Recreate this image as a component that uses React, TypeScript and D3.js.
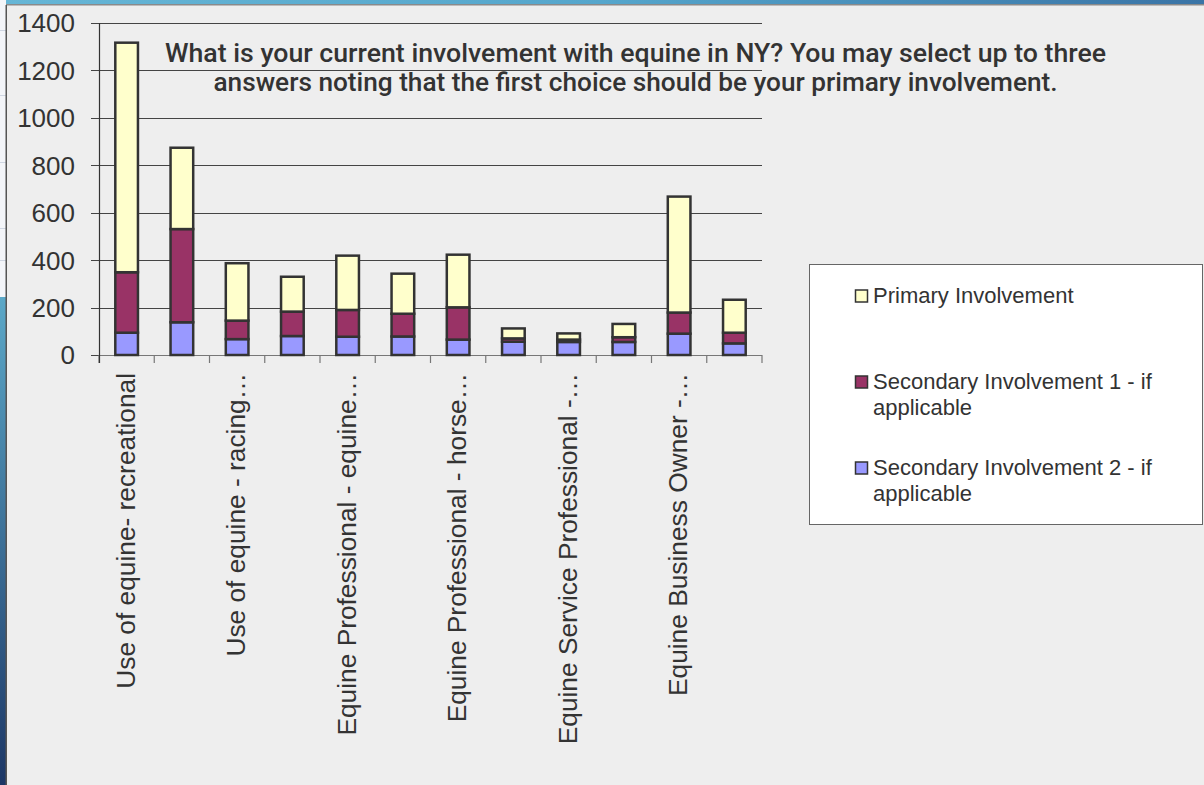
import React from "react";
import * as d3 from "d3";

const categories = [
  "Use of equine- recreational",
  "",
  "Use of equine - racing…",
  "",
  "Equine Professional - equine…",
  "",
  "Equine Professional - horse…",
  "",
  "Equine Service Professional -…",
  "",
  "Equine Business Owner -…",
  "",
];
const secondary2 = [94, 138, 67, 80, 77, 78, 65, 56, 55, 55, 90, 49];
const secondary1 = [255, 393, 78, 103, 113, 96, 136, 14, 10, 20, 89, 45];
const primary = [968, 343, 242, 147, 229, 169, 222, 42, 26, 56, 489, 139];
const yTicks = [0, 200, 400, 600, 800, 1000, 1200, 1400];
const seriesNames = [
  ["Primary Involvement"],
  ["Secondary Involvement 1 - if", "applicable"],
  ["Secondary Involvement 2 - if", "applicable"],
];
const seriesColors = ["#FFFFCC", "#993366", "#9999FF"];
const titleLines = [
  "What is your current involvement with equine in NY? You may select up to three",
  "answers noting that the first choice should be your primary involvement.",
];

export default function App() {
  const W = 1204, H = 785;
  const x0 = 99, x1 = 762, yTop = 23, yBot = 355;
  const x = d3.scaleBand<number>().domain(d3.range(categories.length)).range([x0, x1]).paddingInner(0.59).paddingOuter(0.295);
  const y = d3.scaleLinear().domain([0, 1400]).range([yBot, yTop]);
  const rows = categories.map((c, i) => ({ i, s2: secondary2[i], s1: secondary1[i], p: primary[i] }));
  const stack = d3.stack<any>().keys(["s2", "s1", "p"])(rows);
  const colorByKey: Record<string, string> = { s2: seriesColors[2], s1: seriesColors[1], p: seriesColors[0] };
  const band = (x1 - x0) / categories.length;
  const font = "'Liberation Sans', Arial, sans-serif";

  return (
    <svg width={W} height={H} style={{ position: "absolute", left: 0, top: 0 }} xmlns="http://www.w3.org/2000/svg">
      <defs>
        <linearGradient id="leftG" x1="0" y1="0" x2="0" y2="1">
          <stop offset="0" stopColor="#5ba8c8" />
          <stop offset="1" stopColor="#1d3766" />
        </linearGradient>
        <linearGradient id="topG" x1="0" y1="0" x2="1" y2="0">
          <stop offset="0" stopColor="#66b6d6" />
          <stop offset="0.5" stopColor="#55a6cc" />
          <stop offset="1" stopColor="#3a74a6" />
        </linearGradient>
      </defs>
      <rect x={0} y={0} width={W} height={H} fill="#eeeeee" />
      <rect x={0} y={0} width={W} height={5} fill="url(#topG)" />
      <rect x={6} y={4} width={W} height={1.5} fill="#8a8a8a" />
      <rect x={0} y={0} width={6} height={297} fill="#f3f5f9" />
      {[30, 95, 162, 228, 260].map((yy) => (
        <rect key={yy} x={0} y={yy} width={6} height={1} fill="#cfd6e2" />
      ))}
      <rect x={0} y={297} width={6} height={H - 297} fill="url(#leftG)" />
      <rect x={5.5} y={5} width={1.5} height={H} fill="#555" />

      {/* gridlines */}
      {yTicks.map((t) => (
        <g key={t}>
          <line x1={91} x2={t === 0 ? x0 : x1} y1={Math.round(y(t)) + 0.5} y2={Math.round(y(t)) + 0.5} stroke="#444" strokeWidth={1} />
          <text x={75} y={y(t)} dy="0.36em" textAnchor="end" fontFamily={font} fontSize={26} fill="#333">{t}</text>
        </g>
      ))}
      {/* x axis */}
      <line x1={x0} x2={x1} y1={yBot + 0.5} y2={yBot + 0.5} stroke="#777" strokeWidth={1.2} />
      {d3.range(categories.length + 1).map((k) => (
        <line key={k} x1={x0 + k * band} x2={x0 + k * band} y1={yBot} y2={yBot + 8} stroke="#777" strokeWidth={1.2} />
      ))}
      {/* y axis */}
      <line x1={x0 + 0.5} x2={x0 + 0.5} y1={yTop} y2={yBot + 8} stroke="#333" strokeWidth={1.2} />

      {/* bars */}
      {stack.map((layer) => (
        <g key={layer.key}>
          {layer.map((d, i) => (
            <rect
              key={i}
              x={x(i)!}
              y={y(d[1])}
              width={x.bandwidth()}
              height={y(d[0]) - y(d[1])}
              fill={colorByKey[layer.key]}
              stroke="#333"
              strokeWidth={2.5}
            />
          ))}
        </g>
      ))}

      {/* category labels */}
      {categories.map((c, i) =>
        c ? (
          <text
            key={i}
            transform={`translate(${x(i)! + x.bandwidth() / 2 + 8},373) rotate(-90)`}
            textAnchor="end"
            fontFamily={font}
            fontSize={26.3}
            fill="#333"
          >
            {c}
          </text>
        ) : null
      )}

      {/* title */}
      {titleLines.map((l, i) => (
        <text
          key={i}
          x={635.5}
          y={61.5 + i * 29.5}
          textAnchor="middle"
          fontFamily="Roboto, 'Liberation Sans', sans-serif"
          fontWeight={500}
          fontSize={25.5}
          fill="#333"
          textLength={i === 0 ? 941 : 844}
          lengthAdjust="spacingAndGlyphs"
        >
          {l}
        </text>
      ))}

      {/* legend */}
      <rect x={809.5} y={264.5} width={393} height={260} fill="#ffffff" stroke="#666" strokeWidth={1} />
      {seriesNames.map((lines, i) => {
        const base = [303, 389, 475][i];
        return (
          <g key={i}>
            <rect x={855.5} y={base - 13} width={12} height={12} fill={seriesColors[i]} stroke="#333" strokeWidth={1.5} />
            {lines.map((l, j) => (
              <text key={j} x={873} y={base + j * 26} fontFamily={font} fontSize={22} fill="#333">{l}</text>
            ))}
          </g>
        );
      })}
    </svg>
  );
}
